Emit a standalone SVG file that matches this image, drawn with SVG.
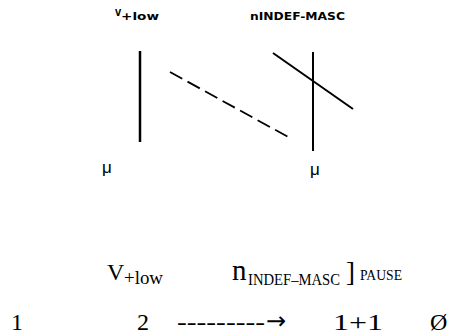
<svg xmlns="http://www.w3.org/2000/svg" width="454" height="334" viewBox="0 0 454 334">
<style>
.top{font-family:"DejaVu Sans",sans-serif;font-weight:bold;fill:#000}
.mu{font-family:"Liberation Sans",sans-serif;font-size:17px;fill:#000}
.ser{font-family:"Liberation Serif",serif;fill:#000}
.ln{stroke:#000;fill:none}
</style>
<rect width="454" height="334" fill="#fff"/>
<g id="label-v-top">
<text class="top" x="115" y="16" font-size="8">V</text>
<text class="top" x="121" y="20" font-size="11" textLength="38" lengthAdjust="spacingAndGlyphs">+low</text>
</g>
<g id="label-n-top">
<text class="top" x="250" y="20" font-size="11" textLength="95" lengthAdjust="spacingAndGlyphs">nINDEF-MASC</text>
</g>
<g id="connectors">
<line class="ln" x1="140" y1="51" x2="140" y2="142" stroke-width="2.5"/>
<line class="ln" x1="313" y1="52" x2="313" y2="151" stroke-width="2"/>
<line class="ln" x1="170" y1="72" x2="290" y2="138" stroke-width="1.8" stroke="#222" stroke-dasharray="14 6"/>
<line class="ln" x1="273" y1="53" x2="353" y2="109" stroke-width="2" stroke="#333"/>
</g>
<g id="mu-left"><text class="mu" x="102" y="173">μ</text></g>
<g id="mu-right"><text class="mu" x="310" y="175">μ</text></g>
<g id="bottom-row1">
<text class="ser" x="107" y="280" font-size="24">V</text>
<text class="ser" x="124" y="284" font-size="18" textLength="39" lengthAdjust="spacingAndGlyphs">+low</text>
<text class="ser" x="232" y="280" font-size="29">n</text>
<text class="ser" x="248" y="285" font-size="16" textLength="92" lengthAdjust="spacingAndGlyphs">INDEF–MASC</text>
<text class="ser" x="346" y="281" font-size="27">]</text>
<text class="ser" x="360" y="280" font-size="15" textLength="42" lengthAdjust="spacingAndGlyphs">PAUSE</text>
</g>
<g id="bottom-row2">
<text class="ser" x="11" y="330" font-size="24">1</text>
<text class="ser" x="137" y="330" font-size="24">2</text>
<text class="ser" x="177" y="330" font-size="24" textLength="88" lengthAdjust="spacingAndGlyphs">---------</text>
<text x="266" y="329" font-family="DejaVu Sans,sans-serif" font-size="24">→</text>
<text class="ser" x="333" y="330" font-size="24" textLength="50" lengthAdjust="spacingAndGlyphs">1+1</text>
<text class="ser" x="430" y="330" font-size="24">Ø</text>
</g>
</svg>
